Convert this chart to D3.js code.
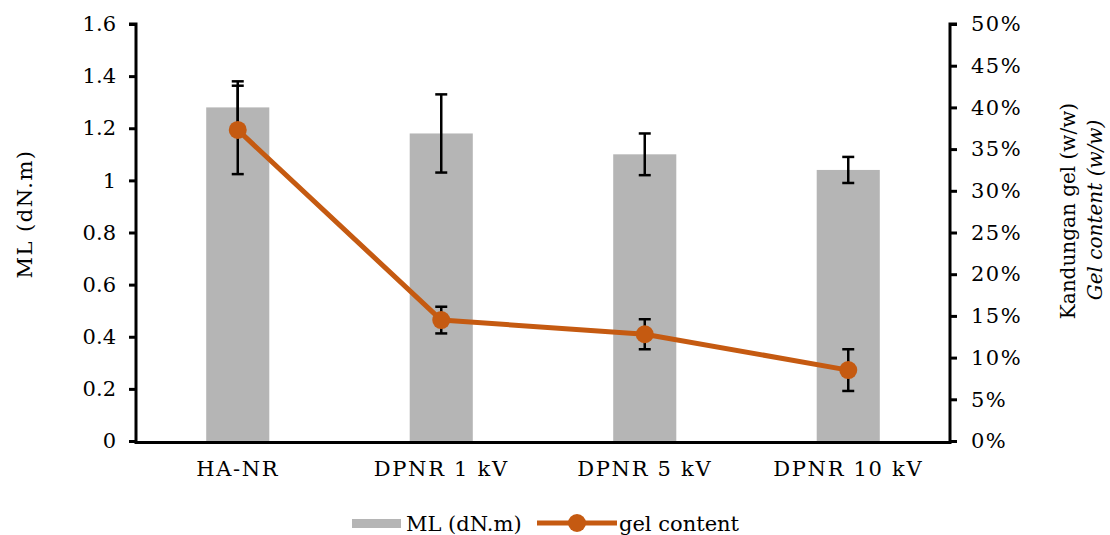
<!DOCTYPE html>
<html>
<head>
<meta charset="utf-8">
<script src="https://cdn.jsdelivr.net/npm/d3@7"></script>
<style>
  body { margin: 0; background: #fff; }
  text { font-family: "DejaVu Serif", serif; fill: #000; }
</style>
</head>
<body>
<div id="chart"></div>
<script>
// data
const categories = ["HA-NR", "DPNR 1 kV", "DPNR 5 kV", "DPNR 10 kV"];
const mlValues = [1.28, 1.18, 1.10, 1.04];
const mlErrors = [0.10, 0.15, 0.08, 0.05];
const gelValues = [0.373, 0.145, 0.128, 0.085];
const gelErrors = [0.053, 0.016, 0.018, 0.025];
const leftTicks = [0, 0.2, 0.4, 0.6, 0.8, 1, 1.2, 1.4, 1.6];
const rightTicks = [0, 0.05, 0.1, 0.15, 0.2, 0.25, 0.3, 0.35, 0.4, 0.45, 0.5];

const width = 1110, height = 535;
const plotLeft = 136, plotRight = 950, plotTop = 24, plotBottom = 441;

const svg = d3.select("#chart")
  .append("svg")
  .attr("width", width)
  .attr("height", height);

const x = d3.scaleBand()
  .domain(categories)
  .range([plotLeft, plotRight])
  .paddingInner(0.69)
  .paddingOuter(0.345);

const yL = d3.scaleLinear().domain([0, 1.6]).range([plotBottom, plotTop]);
const yR = d3.scaleLinear().domain([0, 0.5]).range([plotBottom, plotTop]);

const cx = c => x(c) + x.bandwidth() / 2;
const barColor = "#b5b5b5";
const lineColor = "#c55a11";

// bars
svg.append("g")
  .selectAll("rect")
  .data(categories)
  .enter()
  .append("rect")
  .attr("x", d => x(d))
  .attr("y", (d, i) => yL(mlValues[i]))
  .attr("width", x.bandwidth())
  .attr("height", (d, i) => plotBottom - yL(mlValues[i]))
  .attr("fill", barColor);

// error bars
function errorBars(vals, errs, scale) {
  const g = svg.append("g").attr("stroke", "#000").attr("stroke-width", 2.5);
  categories.forEach((c, i) => {
    const px = cx(c);
    const y1 = scale(vals[i] + errs[i]), y2 = scale(vals[i] - errs[i]);
    g.append("line").attr("x1", px).attr("x2", px).attr("y1", y1).attr("y2", y2);
    g.append("line").attr("x1", px - 6).attr("x2", px + 6).attr("y1", y1).attr("y2", y1);
    g.append("line").attr("x1", px - 6).attr("x2", px + 6).attr("y1", y2).attr("y2", y2);
  });
}
errorBars(mlValues, mlErrors, yL);
errorBars(gelValues, gelErrors, yR);

// gel content line
const line = d3.line()
  .x((d, i) => cx(categories[i]))
  .y(d => yR(d));

svg.append("path")
  .datum(gelValues)
  .attr("fill", "none")
  .attr("stroke", lineColor)
  .attr("stroke-width", 5)
  .attr("stroke-linejoin", "round")
  .attr("d", line);

svg.append("g")
  .selectAll("circle")
  .data(gelValues)
  .enter()
  .append("circle")
  .attr("cx", (d, i) => cx(categories[i]))
  .attr("cy", d => yR(d))
  .attr("r", 9)
  .attr("fill", lineColor);

// axes
const axL = svg.append("g")
  .attr("transform", `translate(${plotLeft},0)`)
  .call(d3.axisLeft(yL).tickValues(leftTicks).tickSize(7).tickPadding(13)
    .tickFormat(d => d3.format("")(+d.toFixed(1))));

const axR = svg.append("g")
  .attr("transform", `translate(${plotRight},0)`)
  .call(d3.axisRight(yR).tickValues(rightTicks).tickSize(7).tickPadding(14)
    .tickFormat(d3.format(".0%")));

const axB = svg.append("g")
  .attr("transform", `translate(0,${plotBottom + 1.5})`)
  .call(d3.axisBottom(x).tickSize(0).tickPadding(19));

[axL, axR, axB].forEach(ax => {
  ax.select(".domain").attr("stroke", "#000").attr("stroke-width", 3);
  ax.selectAll(".tick line").attr("stroke", "#000").attr("stroke-width", 3);
  ax.selectAll("text").attr("font-family", "DejaVu Serif").attr("font-size", 21).attr("fill", "#000");
});
axL.select(".domain").attr("d", `M-7,${plotTop}H0V${plotBottom + 3}`);
axR.select(".domain").attr("d", `M7,${plotTop}H0V${plotBottom + 3}`);
axB.select(".domain").attr("d", `M${plotLeft},0H${plotRight}`);
axB.selectAll("text").attr("letter-spacing", 1.7);
axR.selectAll("text").attr("letter-spacing", 1.5);

// axis titles
svg.append("text")
  .attr("transform", `translate(32,214) rotate(-90)`)
  .attr("text-anchor", "middle")
  .attr("font-size", 21)
  .attr("letter-spacing", 1.5)
  .text("ML (dN.m)");

svg.append("text")
  .attr("transform", `translate(1075,211) rotate(-90)`)
  .attr("text-anchor", "middle")
  .attr("font-size", 20)
  .text("Kandungan gel (w/w)");

svg.append("text")
  .attr("transform", `translate(1102,210) rotate(-90)`)
  .attr("text-anchor", "middle")
  .attr("font-size", 20)
  .attr("font-style", "italic")
  .text("Gel content (w/w)");

// legend
const lg = svg.append("g");
lg.append("rect")
  .attr("x", 352).attr("y", 519).attr("width", 49).attr("height", 9)
  .attr("fill", barColor);
lg.append("text")
  .attr("x", 406).attr("y", 531)
  .attr("font-size", 21)
  .text("ML (dN.m)");
lg.append("line")
  .attr("x1", 537).attr("x2", 617).attr("y1", 523).attr("y2", 523)
  .attr("stroke", lineColor).attr("stroke-width", 5);
lg.append("circle")
  .attr("cx", 577).attr("cy", 523).attr("r", 9)
  .attr("fill", lineColor);
lg.append("text")
  .attr("x", 619).attr("y", 531)
  .attr("font-size", 21)
  .text("gel content");
</script>
</body>
</html>
